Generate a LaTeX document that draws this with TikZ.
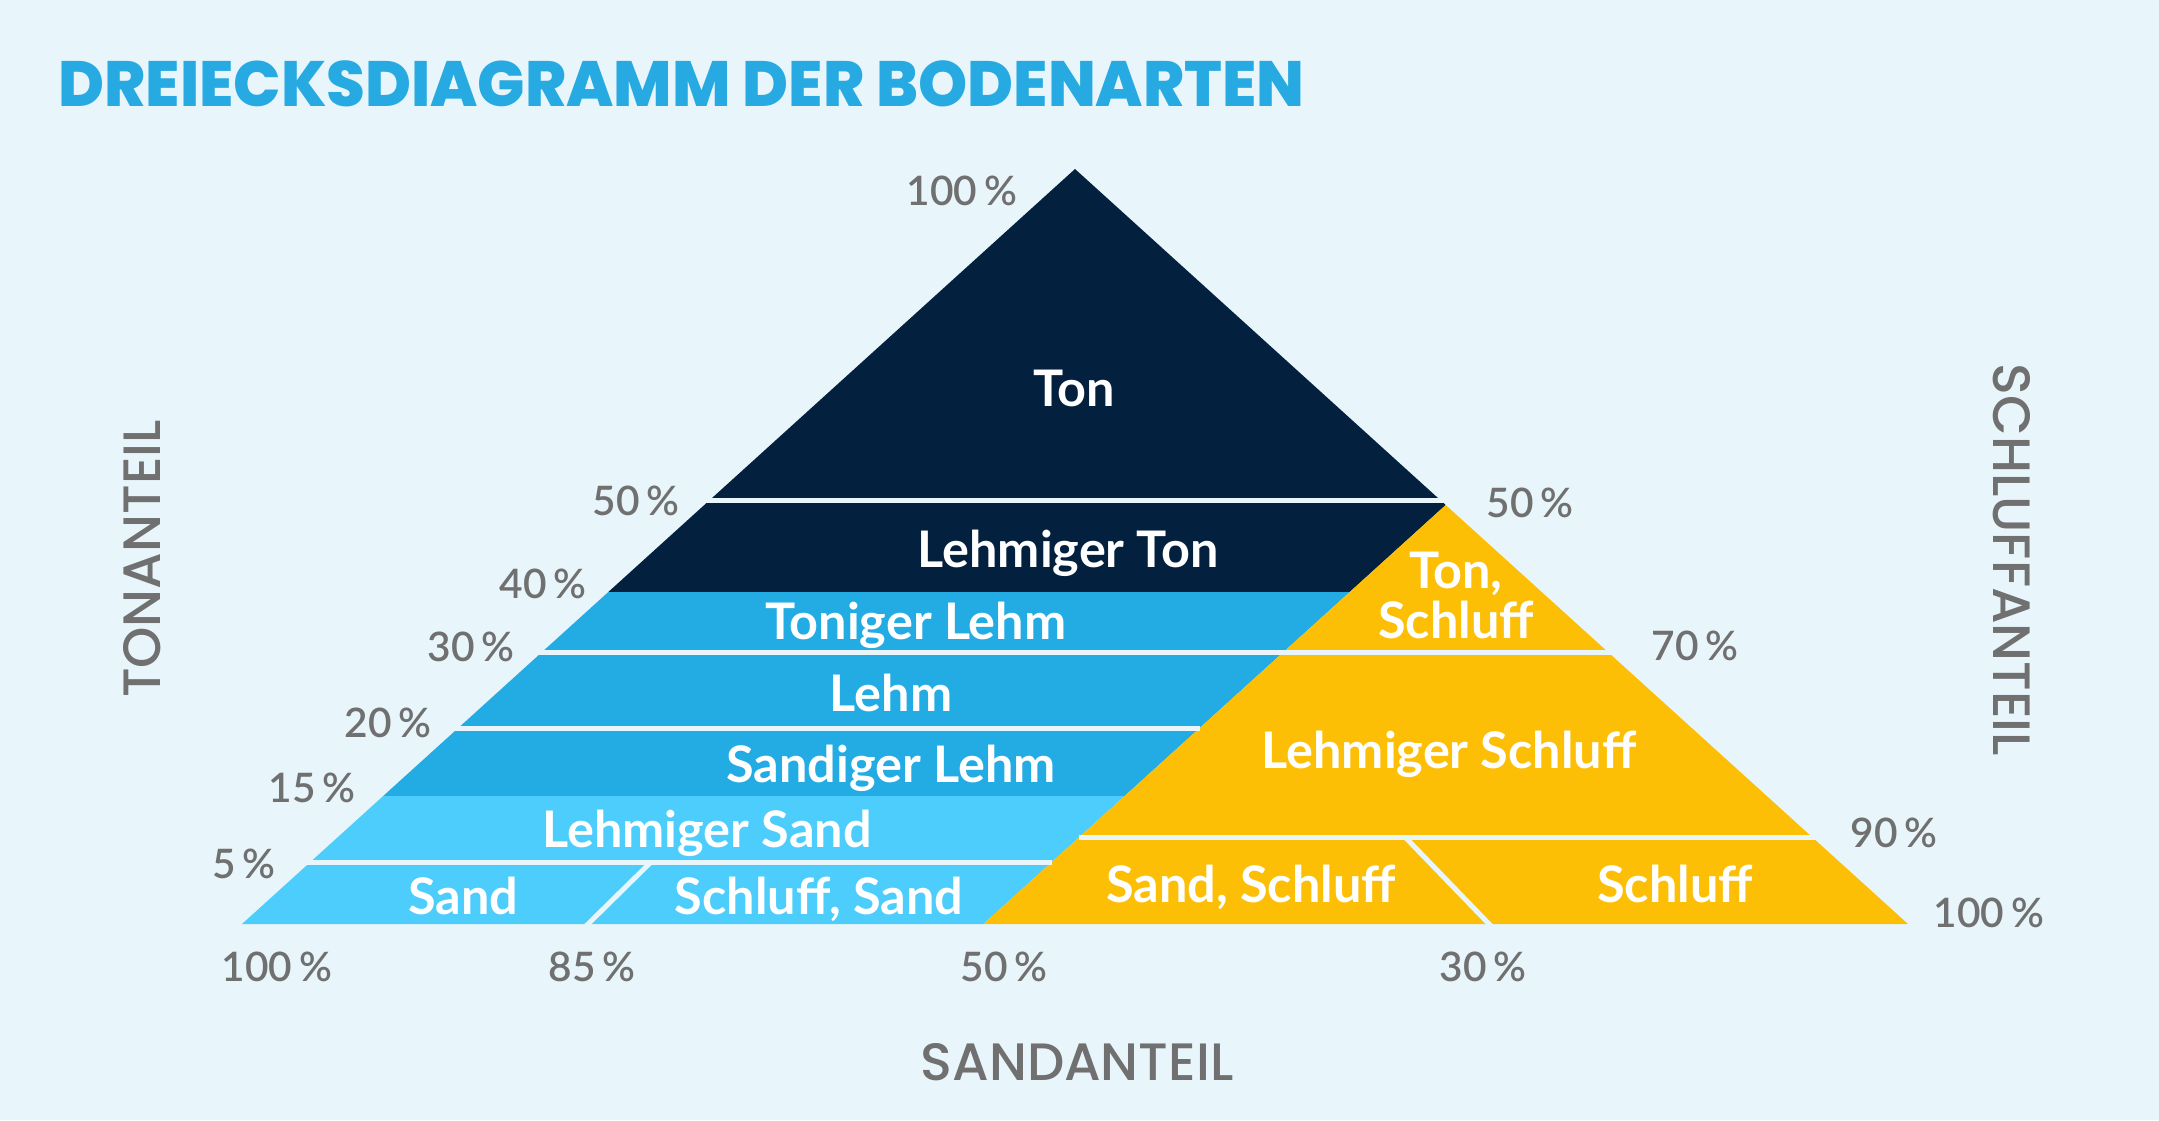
\documentclass[tikz,border=0pt]{standalone}
\usepackage{fontspec}
\usepackage{graphicx}
\usepackage{xcolor}
\setmainfont{Lato}
\IfFontExistsTF{Lato Semibold}{\newfontfamily\pctfont{Lato Semibold}}{\IfFontExistsTF{Lato Medium}{\newfontfamily\pctfont{Lato Medium}}{\newfontfamily\pctfont{Lato}}}
\IfFontExistsTF{Poppins Medium}{\newfontfamily\geomedium{Poppins Medium}}{\newfontfamily\geomedium{Poppins}}
\IfFontExistsTF{Poppins ExtraBold}{\newfontfamily\geoheavy{Poppins ExtraBold}}{\newfontfamily\geoheavyfam{Poppins}\newcommand\geoheavy{\geoheavyfam\bfseries}}
\definecolor{paper}{HTML}{E8F6FC}
\definecolor{tonnavy}{HTML}{03213F}
\definecolor{lehmblue}{HTML}{22ACE3}
\definecolor{sandblue}{HTML}{4DCDFB}
\definecolor{schluffgold}{HTML}{FDBF06}
\definecolor{axisgrey}{HTML}{707070}
\definecolor{titleblue}{HTML}{27AAE1}

\tikzset{
  region/.style={text=white, font=\bfseries\fontsize{25.2}{25}\selectfont, anchor=base, inner sep=0pt, align=center},
  pct/.style={text=axisgrey, font=\pctfont\fontsize{20.3}{21}\selectfont, anchor=base, inner sep=0pt},
  axislabel/.style={text=axisgrey, font=\geomedium\fontsize{26.3}{27}\selectfont, anchor=base, inner sep=0pt},
  divider/.style={draw=paper, line width=2.5pt}
}

\begin{document}
\begin{tikzpicture}[x=0.5pt,y=-0.5pt]
  \fill[paper] (0,0) rectangle (2159,1120);
  \useasboundingbox (0,0) rectangle (2159,1120);
  % title
  \node[anchor=base west, inner sep=0pt, text=titleblue] (title) at (58,106)
    {\scalebox{0.978}[1]{\geoheavy\fontsize{32}{34}\selectfont DREIECKSDIAGRAMM DER BODENARTEN}};
  % soil fields
  \fill[tonnavy] (1075,169) -- (1445.7,505) -- (1349.7,592) -- (608.3,592) -- cycle;
  \fill[lehmblue] (608.3,592) -- (1349.7,592) -- (1124.6,796) -- (383.2,796) -- cycle;
  \fill[sandblue] (383.2,796) -- (1124.6,796) -- (983.4,924) -- (242,924) -- cycle;
  \fill[schluffgold] (1445.7,505) -- (1908,924) -- (983.4,924) -- cycle;
  % separating lines
  \draw[divider] (706,500) -- (1444,500);
  \draw[divider] (538,652) -- (1612,652);
  \draw[divider] (454,728) -- (1199.7,728);
  \draw[divider] (306,862) -- (1051.8,862);
  \draw[divider] (1079.4,837) -- (1816,837);
  \draw[divider] (651,862) -- (586,926);
  \draw[divider] (1405,837) -- (1491,926);
  % field names
  \node[region] (ton) at (1074,406) {Ton};
  \node[region] (lehmton) at (1068,567) {Lehmiger Ton};
  \node[region] (tonlehm) at (916,639) {Toniger Lehm};
  \node[region] (lehm) at (891,711) {Lehm};
  \node[region] (sandlehm) at (891,782) {Sandiger Lehm};
  \node[region] (lehmsand) at (707,847) {Lehmiger Sand};
  \node[region] (sand) at (463,914) {Sand};
  \node[region] (schluffsand) at (819,914) {Schluff, Sand};
  \node[region, anchor=center] (tonschluff) at (1456,595) {Ton,\\Schluff};
  \node[region] (lehmschluff) at (1449,768) {Lehmiger Schluff};
  \node[region] (sandschluff) at (1251,902) {Sand, Schluff};
  \node[region] (schluff) at (1675,902) {Schluff};
  % percentages
  \foreach \x/\y/\t [count=\i] in {962/205/100, 636/515/50, 543/598/40, 471/661/30,
                                   388/737/20, 312/802/15, 244/878/5,
                                   1530/517/50, 1695/660/70, 1894/847/90, 1989/927/100,
                                   277/981/100, 592/981/85, 1004/981/50, 1483/981/30}
    \node[pct] (pct\i) at (\x,\y) {\t\,\%};
  % axis names
  \node[axislabel] (sandanteil) at (1077,1080) {SANDANTEIL};
  \node[axislabel, rotate=90] (tonanteil) at (160,559) {TONANTEIL};
  \node[axislabel, rotate=-90] (schluffanteil) at (1993,560) {SCHLUFFANTEIL};
\end{tikzpicture}
\end{document}
